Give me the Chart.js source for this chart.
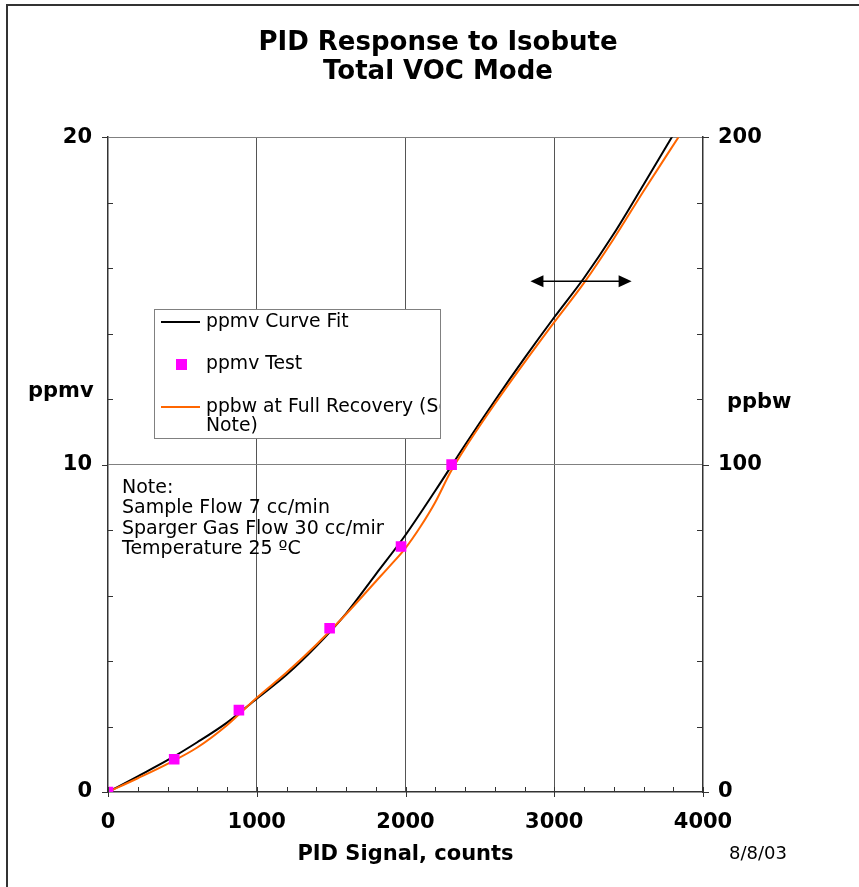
<!DOCTYPE html>
<html>
<head>
<meta charset="utf-8">
<title>PID Response to Isobute</title>
<script src="https://cdn.jsdelivr.net/npm/chart.js@4.4.1/dist/chart.umd.min.js"></script>
<style>
  html, body { margin: 0; padding: 0; background: #fff; }
  #wrap { position: relative; width: 859px; height: 887px; }
  #frame { position: absolute; left: 6px; top: 4px; right: 0; bottom: 0;
           border-left: 2px solid #333; border-top: 2px solid #333; pointer-events: none; }
</style>
</head>
<body>
<div id="wrap">
  <canvas id="pidChart"></canvas>
  <div id="frame"></div>
</div>
<script>
document.addEventListener("DOMContentLoaded", () => {

  const FONT = "'DejaVu Sans', sans-serif";

  // ===== DATA =====
  const fitCounts = [0, 200, 400, 600, 800, 1000, 1200, 1400, 1600, 1800, 2000,
                     2200, 2400, 2600, 2800, 3000, 3200, 3400, 3600, 3810];
  const fitPpmv   = [0, 0.48, 0.97, 1.52, 2.12, 2.85, 3.58, 4.45, 5.45, 6.65, 7.85,
                     9.2, 10.6, 11.95, 13.25, 14.5, 15.7, 17.05, 18.55, 20.15];

  const testCounts = [0, 445, 880, 1490, 1970, 2310];
  const testPpmv   = [0, 1, 2.5, 5, 7.5, 10];

  const recoveryCounts = [0, 200, 400, 600, 800, 1000, 1200, 1400, 1600, 1800, 1900, 2000,
                          2100, 2200, 2300, 2400, 2600, 2800, 3000, 3200, 3400, 3600, 3835];
  const recoveryPpbw   = [0, 4.2, 8.6, 13.6, 20.4, 28.8, 36.5, 45, 54.3, 64.3, 69.3, 74.5,
                          81, 88.5, 97.5, 105, 118.5, 131.2, 143.5, 155.5, 169, 183.5, 200];

  const xTickLabels    = [0, 1000, 2000, 3000, 4000];
  const ppmvTickLabels = [0, 10, 20];
  const ppbwTickLabels = [0, 100, 200];

  const noteLines = ["Note:", "Sample Flow 7 cc/min", "Sparger Gas Flow 30 cc/min", "Temperature 25 ºC"];
  const arrowSpan  = [2840, 3520];
  const arrowLevel = 15.6;

  const pts = (xs, ys) => xs.map((x, i) => ({ x, y: ys[i] }));

  // ===== EXTRA DRAWING (ticks, arrow, legend, notes) =====
  const overlayPlugin = {
    id: "overlay",
    afterDraw(chart) {
      const { ctx, chartArea: a, scales: { x, y, y2 } } = chart;
      ctx.save();

      // tick marks
      ctx.strokeStyle = "#333";
      ctx.lineWidth = 1;
      ctx.beginPath();
      x.ticks.forEach(t => {
        const px = Math.round(x.getPixelForValue(t.value)) + 0.5;
        const major = xTickLabels.includes(t.value);
        ctx.moveTo(px, a.bottom - 5);
        ctx.lineTo(px, a.bottom + (major ? 5 : 0));
      });
      y.ticks.forEach(t => {
        const py = Math.round(y.getPixelForValue(t.value)) + 0.5;
        const major = ppmvTickLabels.includes(t.value);
        ctx.moveTo(a.left + (major ? 0 : 5), py);
        ctx.lineTo(a.left - (major ? 6 : 0), py);
      });
      y2.ticks.forEach(t => {
        const py = Math.round(y2.getPixelForValue(t.value)) + 0.5;
        const major = ppbwTickLabels.includes(t.value);
        ctx.moveTo(a.right - (major ? 0 : 6), py);
        ctx.lineTo(a.right + (major ? 6 : 0), py);
      });
      ctx.stroke();

      // double arrow
      const ay = y.getPixelForValue(arrowLevel);
      const ax1 = x.getPixelForValue(arrowSpan[0]);
      const ax2 = x.getPixelForValue(arrowSpan[1]);
      ctx.strokeStyle = "#000";
      ctx.fillStyle = "#000";
      ctx.lineWidth = 1.5;
      ctx.beginPath();
      ctx.moveTo(ax1 + 8, ay);
      ctx.lineTo(ax2 - 8, ay);
      ctx.stroke();
      ctx.beginPath();
      ctx.moveTo(ax1, ay); ctx.lineTo(ax1 + 13, ay - 6); ctx.lineTo(ax1 + 13, ay + 6);
      ctx.closePath(); ctx.fill();
      ctx.beginPath();
      ctx.moveTo(ax2, ay); ctx.lineTo(ax2 - 13, ay - 6); ctx.lineTo(ax2 - 13, ay + 6);
      ctx.closePath(); ctx.fill();

      // side axis captions
      ctx.fillStyle = "#000";
      ctx.font = `bold 21px ${FONT}`;
      ctx.textAlign = "left";
      ctx.textBaseline = "middle";
      ctx.fillText("ppmv", 28, 392);
      ctx.fillText("ppbw", 727, 403);

      // note block (clipped like the original text box)
      ctx.save();
      ctx.beginPath();
      ctx.rect(a.left + 1, 470, 383 - a.left, 100);
      ctx.clip();
      ctx.font = `19px ${FONT}`;
      noteLines.forEach((line, i) => ctx.fillText(line, 122, 488 + i * 20.4));
      ctx.restore();

      // legend box
      const box = { l: 154.5, t: 309.5, w: 286, h: 129 };
      ctx.fillStyle = "#fff";
      ctx.fillRect(box.l, box.t, box.w, box.h);
      ctx.strokeStyle = "#808080";
      ctx.lineWidth = 1;
      ctx.strokeRect(box.l, box.t, box.w, box.h);

      ctx.save();
      ctx.beginPath();
      ctx.rect(box.l, box.t, box.w - 1, box.h);
      ctx.clip();
      ctx.font = `18.8px ${FONT}`;
      const rows = [322, 364, 407];
      chart.data.datasets.forEach((ds, i) => {
        const ry = rows[i];
        if (ds.showLine === false) {
          ctx.fillStyle = ds.backgroundColor;
          ctx.fillRect(176, ry - 5, 11, 11);
        } else {
          ctx.strokeStyle = ds.borderColor;
          ctx.lineWidth = 2;
          ctx.beginPath();
          ctx.moveTo(161, ry); ctx.lineTo(200, ry);
          ctx.stroke();
        }
        // wrap label
        const words = ds.label.split(" ");
        const lines = [];
        let cur = "";
        words.forEach(w => {
          const test = cur ? cur + " " + w : w;
          if (ctx.measureText(test).width > 275 && cur) { lines.push(cur); cur = w; }
          else cur = test;
        });
        lines.push(cur);
        ctx.fillStyle = "#000";
        lines.forEach((ln, j) => ctx.fillText(ln, 206, ry + j * 19));
      });
      ctx.restore();

      // date stamp
      ctx.font = `18px ${FONT}`;
      ctx.fillStyle = "#000";
      ctx.fillText("8/8/03", 729, 854);

      ctx.restore();
    }
  };

  const tickFont = { family: FONT, size: 21, weight: "bold" };

  new Chart(document.getElementById("pidChart"), {
    type: "line",
    data: {
      datasets: [
        {
          label: "ppmv Curve Fit",
          data: pts(fitCounts, fitPpmv),
          yAxisID: "y",
          borderColor: "#000000",
          borderWidth: 2,
          pointRadius: 0,
          cubicInterpolationMode: "monotone",
          order: 3
        },
        {
          label: "ppmv Test",
          data: pts(testCounts, testPpmv),
          yAxisID: "y",
          showLine: false,
          pointStyle: "rect",
          pointRadius: 7.5,
          backgroundColor: "#FF00FF",
          borderColor: "#FF00FF",
          borderWidth: 0,
          order: 1
        },
        {
          label: "ppbw at Full Recovery (See Note)",
          data: pts(recoveryCounts, recoveryPpbw),
          yAxisID: "y2",
          borderColor: "#FF6600",
          borderWidth: 2,
          pointRadius: 0,
          cubicInterpolationMode: "monotone",
          order: 2
        }
      ]
    },
    options: {
      responsive: true,
      maintainAspectRatio: false,
      animation: false,
      layout: { padding: { left: 17, right: 0, top: 0, bottom: 0 } },
      plugins: {
        legend: { display: false },
        tooltip: { enabled: false },
        title: {
          display: true,
          text: ["PID Response to Isobute", "Total VOC Mode"],
          color: "#000",
          font: { family: FONT, size: 26, weight: "bold", lineHeight: 1.1 },
          padding: { top: 29, bottom: 51 }
        }
      },
      scales: {
        x: {
          type: "linear",
          position: "bottom",
          min: 0,
          max: 4000,
          afterFit: s => { s.height = 95; },
          ticks: {
            stepSize: 200,
            autoSkip: false,
            maxRotation: 0,
            padding: 18,
            color: "#000",
            font: tickFont,
            callback: v => xTickLabels.includes(v) ? String(v) : ""
          },
          grid: {
            drawTicks: false,
            lineWidth: 1,
            color: c => (c.tick && c.tick.value % 1000 === 0 && c.tick.value > 0 && c.tick.value < 4000) ? "#555" : "transparent"
          },
          border: { color: "#333", width: 1.5 },
          title: {
            display: true,
            text: "PID Signal, counts",
            color: "#000",
            font: tickFont,
            padding: { top: 0, bottom: 20 }
          }
        },
        y: {
          type: "linear",
          position: "left",
          min: 0,
          max: 20,
          afterFit: s => { s.width = 91; },
          ticks: {
            stepSize: 2,
            autoSkip: false,
            padding: 16,
            color: "#000",
            font: tickFont,
            callback: v => ppmvTickLabels.includes(v) ? String(v) : ""
          },
          grid: {
            drawTicks: false,
            lineWidth: 1,
            color: c => (c.tick && (c.tick.value === 10 || c.tick.value === 20)) ? "#808080" : "transparent"
          },
          border: { color: "#333", width: 1.5 }
        },
        y2: {
          type: "linear",
          position: "right",
          min: 0,
          max: 200,
          afterFit: s => { s.width = 156; },
          ticks: {
            stepSize: 20,
            autoSkip: false,
            padding: 15,
            color: "#000",
            font: tickFont,
            callback: v => ppbwTickLabels.includes(v) ? String(v) : ""
          },
          grid: { drawTicks: false, drawOnChartArea: false },
          border: { color: "#333", width: 1.5 }
        }
      }
    },
    plugins: [overlayPlugin]
  });
});
</script>
</body>
</html>
